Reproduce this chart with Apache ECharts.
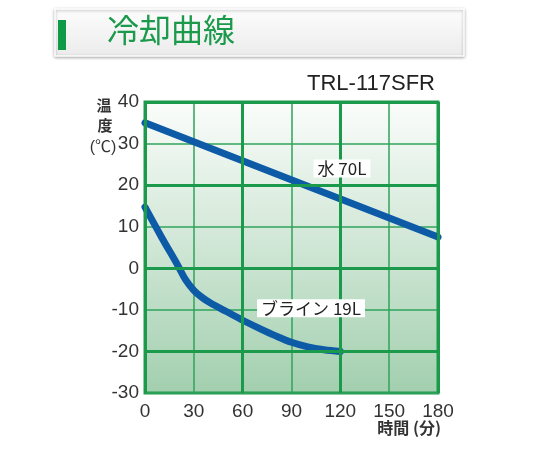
<!DOCTYPE html>
<html>
<head>
<meta charset="utf-8">
<script src="https://cdn.jsdelivr.net/npm/echarts@6/dist/echarts.min.js"></script>
<style>
  html, body { margin: 0; padding: 0; background: #fff; }
  #main { width: 540px; height: 450px; }
</style>
</head>
<body>
<div id="main"></div>
<script>
// data
const xTicks = [0, 30, 60, 90, 120, 150, 180];
const yTicks = [-30, -20, -10, 0, 10, 20, 30, 40];
const majorX = [0, 60, 120, 180];
const majorY = [40, 20, 0, -20];

const waterMin = [0, 180];
const waterTemp = [35, 7.5];

const brineMin = [0, 10, 20, 25, 30, 35, 40, 50, 60, 70, 80, 90, 100, 110, 120];
const brineTemp = [14.7, 7.6, 0.8, -2.8, -5.3, -7.0, -8.3, -10.4, -12.5, -14.4, -16.2, -17.8, -18.9, -19.6, -20];

const seriesNames = ['水 70L', 'ブライン 19L'];
const labelPos = [[121, 24], [102, -9.6]];

const fontLatin = '"Liberation Sans", Arial, "Noto Sans CJK JP", sans-serif';
const fontJp = '"Noto Sans CJK JP", "Liberation Sans", sans-serif';
const green = '#1c9a4c';
const blue = '#0d5aa7';

const zip = (xs, ys) => xs.map((x, i) => [x, ys[i]]);

const chart = echarts.init(document.getElementById('main'));

const labelStyle = {
    show: true, fontSize: 17, color: '#222',
    fontFamily: fontJp, backgroundColor: '#fff', padding: [1, 4, 0, 4]
};

const option = {
    backgroundColor: '#fff',
    animation: false,
    grid: {
        left: 145, right: 102, top: 102, bottom: 57,
        show: true,
        borderColor: green,
        borderWidth: 3,
        backgroundColor: {
            type: 'linear', x: 0, y: 0, x2: 0, y2: 1,
            colorStops: [
                { offset: 0, color: '#fbfdfb' },
                { offset: 0.5, color: '#cfe6d5' },
                { offset: 1, color: '#a2cfae' }
            ]
        }
    },
    xAxis: {
        type: 'value', min: xTicks[0], max: xTicks[xTicks.length - 1], interval: 30,
        axisLine: { show: false },
        axisTick: { show: false },
        axisLabel: { fontSize: 19, color: '#333', margin: 9, fontFamily: fontLatin },
        splitLine: { show: true, lineStyle: { color: '#2fa35a', width: 1.5 } }
    },
    yAxis: {
        type: 'value', min: yTicks[0], max: yTicks[yTicks.length - 1], interval: 10,
        axisLine: { show: false },
        axisTick: { show: false },
        axisLabel: { fontSize: 19, color: '#333', margin: 6, fontFamily: fontLatin },
        splitLine: { show: true, lineStyle: { color: '#2fa35a', width: 1.5 } }
    },
    series: [
        {
            // thick grid lines
            type: 'line',
            data: [],
            z: 1,
            silent: true,
            markLine: {
                symbol: 'none',
                silent: true,
                label: { show: false },
                lineStyle: { color: green, width: 3, type: 'solid' },
                data: majorX.map(v => ({ xAxis: v })).concat(majorY.map(v => ({ yAxis: v })))
            }
        },
        {
            name: seriesNames[0],
            type: 'line',
            data: zip(waterMin, waterTemp),
            showSymbol: false,
            z: 3,
            lineStyle: { color: blue, width: 7, cap: 'round' },
            markPoint: {
                symbol: 'rect', symbolSize: 0,
                data: [{ coord: labelPos[0] }],
                label: Object.assign({ formatter: seriesNames[0] }, labelStyle)
            }
        },
        {
            name: seriesNames[1],
            type: 'line',
            data: zip(brineMin, brineTemp),
            smooth: 0.35,
            showSymbol: false,
            z: 3,
            lineStyle: { color: blue, width: 7, cap: 'round', join: 'round' },
            markPoint: {
                symbol: 'rect', symbolSize: 0,
                data: [{ coord: labelPos[1] }],
                label: Object.assign({ formatter: seriesNames[1] }, labelStyle)
            }
        }
    ],
    graphic: [
        {
            type: 'rect',
            shape: { x: 55, y: 9, width: 409, height: 47 },
            style: {
                fill: {
                    type: 'linear', x: 0, y: 0, x2: 0, y2: 1,
                    colorStops: [{ offset: 0, color: '#fdfdfd' }, { offset: 1, color: '#ebebeb' }]
                },
                stroke: '#fff', lineWidth: 1.5,
                shadowBlur: 3, shadowColor: 'rgba(0,0,0,0.3)', shadowOffsetY: 1
            }
        },
        { type: 'rect', shape: { x: 58, y: 20, width: 8, height: 30 }, style: { fill: '#0f9a47' } },
        {
            type: 'text', left: 107, top: 14,
            style: { text: '冷却曲線', fontSize: 32, fill: '#1a9a4a', fontFamily: fontJp }
        },
        {
            type: 'text', x: 435, y: 95,
            style: { text: 'TRL-117SFR', fontSize: 22, fill: '#222', fontFamily: fontLatin, textAlign: 'right', textVerticalAlign: 'bottom' }
        },
        {
            type: 'text', x: 104, y: 105,
            style: { text: '温', fontSize: 15, fontWeight: 'bold', fill: '#333', fontFamily: fontJp, textAlign: 'center', textVerticalAlign: 'middle' }
        },
        {
            type: 'text', x: 105, y: 125,
            style: { text: '度', fontSize: 15, fontWeight: 'bold', fill: '#333', fontFamily: fontJp, textAlign: 'center', textVerticalAlign: 'middle' }
        },
        {
            type: 'text', x: 103, y: 148,
            style: { text: '(℃)', fontSize: 16, fill: '#333', fontFamily: fontLatin, textAlign: 'center', textVerticalAlign: 'middle' }
        },
        {
            type: 'text', x: 441, y: 428,
            style: { text: '時間 (分)', fontSize: 16, fontWeight: 'bold', fill: '#333', fontFamily: fontJp, textAlign: 'right', textVerticalAlign: 'middle' }
        }
    ]
};

chart.setOption(option);
</script>
</body>
</html>
